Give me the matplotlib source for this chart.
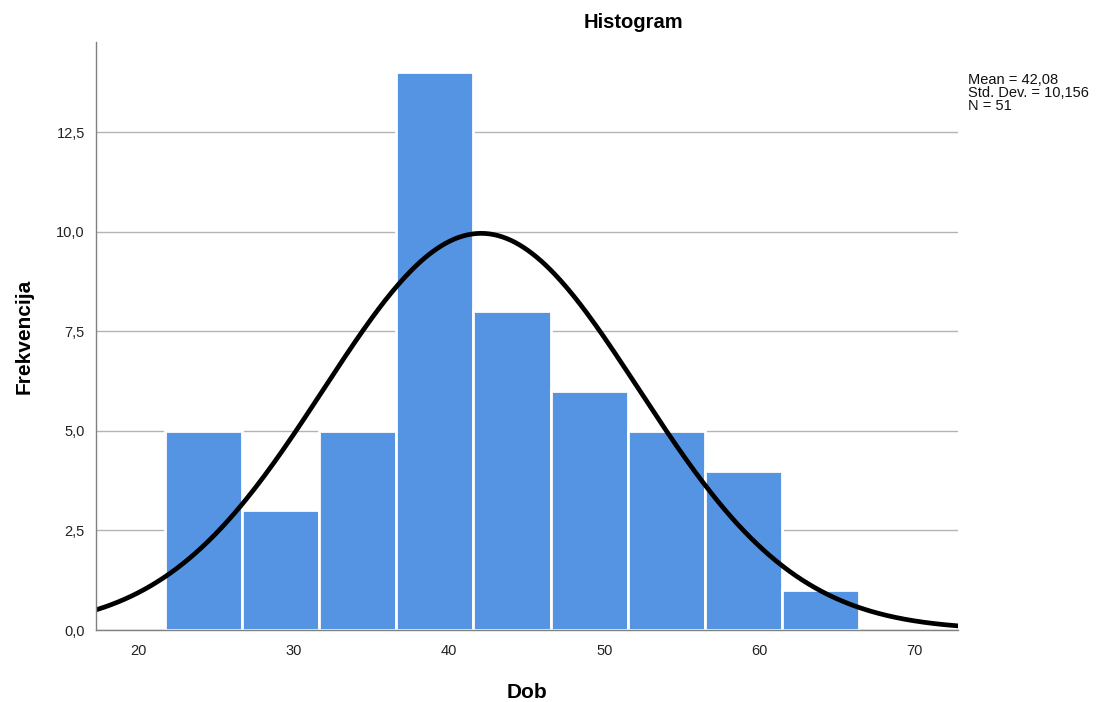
import numpy as np
import matplotlib
matplotlib.use("Agg")
import matplotlib.pyplot as plt
from matplotlib.ticker import FuncFormatter

plt.rcParams["font.family"] = ["Liberation Sans", "DejaVu Sans"]

# Data
counts = [5, 3, 5, 14, 8, 6, 5, 4, 1]
bin_start = 21.7
bin_width = 4.97
mean = 42.08
std = 10.156
n = 51
xticks = [20, 30, 40, 50, 60, 70]
yticks = [0.0, 2.5, 5.0, 7.5, 10.0, 12.5]

edges = bin_start + bin_width * np.arange(len(counts) + 1)

fig = plt.figure(figsize=(11.1, 7.02), dpi=100)
ax = fig.add_axes([96/1110, 1-630/702, (958-96)/1110, (630-42)/702])

ax.set_axisbelow(True)
ax.yaxis.grid(True, color="#b4b4b4", linewidth=1.0)
ax.bar(edges[:-1], counts, width=bin_width, align="edge",
       color="#5594E3", edgecolor="white", linewidth=2.0)

xs = np.linspace(17.28, 72.78, 400)
ys = n * bin_width * np.exp(-0.5 * ((xs - mean) / std) ** 2) / (std * np.sqrt(2 * np.pi))
ax.plot(xs, ys, color="black", linewidth=3.4)

ax.set_xlim(17.28, 72.78)
ax.set_ylim(0, 14.76)
ax.set_xticks(xticks)
ax.set_yticks(yticks)
ax.yaxis.set_major_formatter(FuncFormatter(lambda v, p: f"{v:.1f}".replace(".", ",")))
ax.tick_params(length=0, labelsize=10.5, colors="#222222", pad=10)
ax.tick_params(axis="y", pad=8)
for s in ["top", "right"]:
    ax.spines[s].set_visible(False)
for s in ["left", "bottom"]:
    ax.spines[s].set_color("#808080")
    ax.spines[s].set_linewidth(1.0)

ax.set_xlabel("Dob", fontsize=15, fontweight="bold", labelpad=18)
ax.set_ylabel("Frekvencija", fontsize=15, fontweight="bold", labelpad=16)
fig.text(633/1110, 1-23/702, "Histogram", ha="center", va="center",
         fontsize=14.5, fontweight="bold")
fig.text(968/1110, 1-73/702, "Mean = 42,08\nStd. Dev. = 10,156\nN = 51",
         ha="left", va="top", fontsize=10.5, linespacing=0.92, color="#111111")

fig.savefig("out.png", dpi=100)
